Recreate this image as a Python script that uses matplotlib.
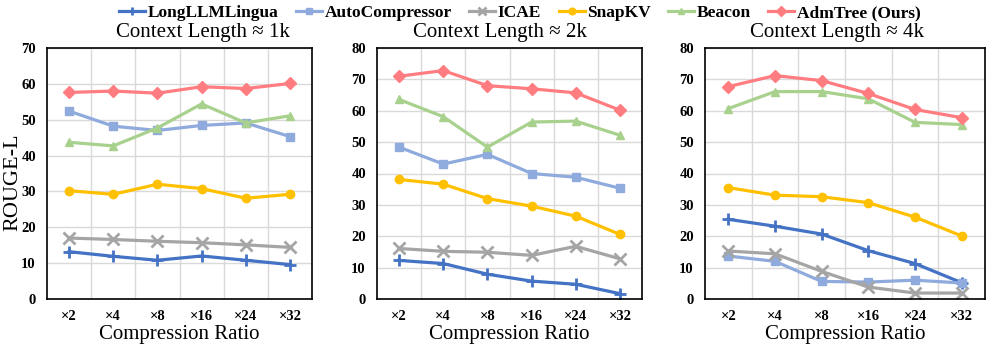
import matplotlib.pyplot as plt
import numpy as np

plt.rcParams['font.family'] = ['Liberation Serif', 'DejaVu Serif']

ratios = ['×2', '×4', '×8', '×16', '×24', '×32']
methods = ['LongLLMLingua', 'AutoCompressor', 'ICAE', 'SnapKV', 'Beacon', 'AdmTree (Ours)']
colors = ['#4472C4', '#8FAADC', '#A5A5A5', '#FFC000', '#A9D18E', '#FF7C80']
markers = ['+', 's', 'x', 'o', '^', 'D']

# 1k context
k1_longllmlingua = [13.2, 11.9, 10.8, 12.0, 10.8, 9.6]
k1_autocompressor = [52.4, 48.2, 47.0, 48.4, 49.1, 45.3]
k1_icae = [17.0, 16.6, 16.1, 15.7, 15.1, 14.4]
k1_snapkv = [30.2, 29.2, 32.0, 30.8, 28.1, 29.2]
k1_beacon = [43.7, 42.7, 47.7, 54.4, 49.1, 51.1]
k1_admtree = [57.6, 58.0, 57.4, 59.2, 58.7, 60.1]

# 2k context
k2_longllmlingua = [12.3, 11.3, 7.9, 5.7, 4.7, 1.7]
k2_autocompressor = [48.4, 43.0, 46.1, 40.0, 38.8, 35.3]
k2_icae = [16.1, 15.2, 14.9, 13.9, 16.8, 12.8]
k2_snapkv = [38.1, 36.6, 32.0, 29.6, 26.4, 20.6]
k2_beacon = [63.6, 58.1, 48.4, 56.4, 56.7, 52.2]
k2_admtree = [71.0, 72.8, 68.0, 67.0, 65.7, 60.2]

# 4k context
k4_longllmlingua = [25.4, 23.2, 20.7, 15.4, 11.3, 5.2]
k4_autocompressor = [13.7, 12.0, 5.6, 5.4, 6.0, 5.1]
k4_icae = [15.3, 14.4, 8.8, 3.8, 1.9, 1.9]
k4_snapkv = [35.5, 33.1, 32.6, 30.7, 26.1, 20.1]
k4_beacon = [60.7, 66.1, 66.1, 63.8, 56.3, 55.6]
k4_admtree = [67.7, 71.2, 69.6, 65.5, 60.4, 57.8]

panels = [
    ('Context Length ≈ 1k', 70,
     [k1_longllmlingua, k1_autocompressor, k1_icae, k1_snapkv, k1_beacon, k1_admtree]),
    ('Context Length ≈ 2k', 80,
     [k2_longllmlingua, k2_autocompressor, k2_icae, k2_snapkv, k2_beacon, k2_admtree]),
    ('Context Length ≈ 4k', 80,
     [k4_longllmlingua, k4_autocompressor, k4_icae, k4_snapkv, k4_beacon, k4_admtree]),
]

fig = plt.figure(figsize=(9.97, 3.46), dpi=100)
W, H = 997, 346
boxes = [(47, 312), (377, 642), (705, 985)]
title_x = [203, 500, 837]
x = np.arange(len(ratios))

handles = []
for i, (title, ymax, series) in enumerate(panels):
    l, r = boxes[i]
    ax = fig.add_axes([l / W, 1 - 299 / H, (r - l) / W, 251 / H])
    for j, vals in enumerate(series):
        ms = 8 if markers[j] in ('+', 'x') else 6
        mew = 2 if markers[j] in ('+', 'x') else 1
        h, = ax.plot(x, vals, color=colors[j], marker=markers[j], lw=2.3,
                     ms=ms, mew=mew, label=methods[j])
        if i == 0:
            handles.append(h)
    ax.set_xlim(-0.5, len(ratios) - 0.5)
    ax.set_ylim(0, ymax)
    ax.set_yticks(np.arange(0, ymax + 1, 10))
    ax.set_xticks(x)
    ax.set_xticklabels(ratios, fontweight='bold', fontsize=10.5)
    for t in ax.get_yticklabels():
        t.set_fontweight('bold')
        t.set_fontsize(10.5)
    ax.set_xticks(np.arange(0.5, len(ratios) - 1, 1), minor=True)
    ax.grid(True, which='major', axis='y', color='#D9D9D9', lw=1)
    ax.grid(True, which='minor', axis='x', color='#D9D9D9', lw=1)
    ax.tick_params(which='both', length=0, pad=8)
    for s in ax.spines.values():
        s.set_color('black')
        s.set_linewidth(1.2)
    ax.set_axisbelow(True)
    ax.set_xlabel('Compression Ratio', fontsize=15, labelpad=1)
    fig.text(title_x[i] / W, 1 - 32 / H, title, ha='center', va='center', fontsize=15)

fig.text(13 / W, 1 - 182 / H, 'ROUGE-L', rotation=90, ha='center', va='center', fontsize=16)

fig.legend(handles=handles, loc='center', bbox_to_anchor=(520 / W, 1 - 13 / H), ncol=6,
           frameon=False, prop={'weight': 'bold', 'size': 12.5}, handlelength=1.5,
           handletextpad=0.15, columnspacing=1.0, borderaxespad=0, markerscale=0.8)

fig.savefig('out.png', dpi=100)
